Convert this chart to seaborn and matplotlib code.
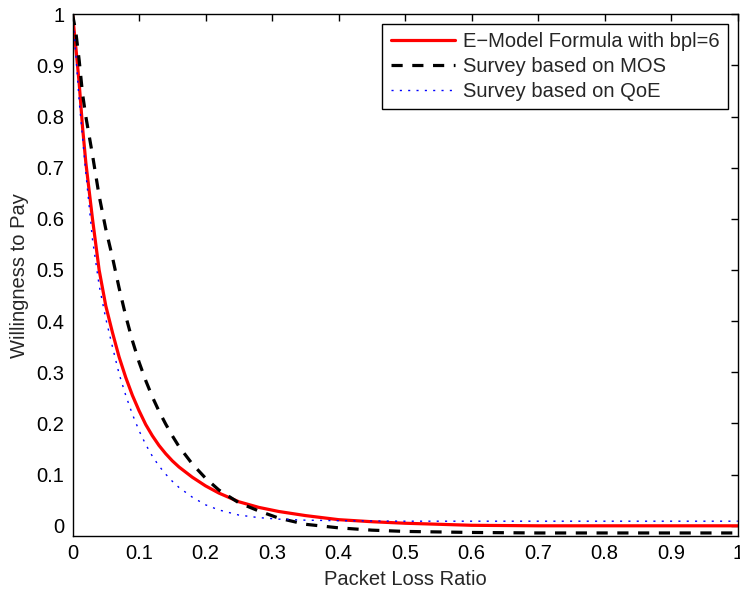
import numpy as np
import pandas as pd
import matplotlib
matplotlib.use("Agg")
import matplotlib.pyplot as plt
import seaborn as sns

# ---- data ----
loss_ratio = [0, 0.005, 0.01, 0.015, 0.02, 0.03, 0.04, 0.05, 0.06, 0.07, 0.08,
              0.09, 0.10, 0.11, 0.12, 0.13, 0.14, 0.15, 0.16, 0.18, 0.20, 0.22,
              0.25, 0.28, 0.31, 0.35, 0.40, 0.45, 0.50, 0.55, 0.60, 0.70, 0.80,
              0.90, 1.0]
emodel = [1.0, 0.935, 0.865, 0.78, 0.71, 0.60, 0.50, 0.43, 0.378, 0.33, 0.29,
          0.255, 0.225, 0.198, 0.176, 0.157, 0.141, 0.127, 0.115, 0.095, 0.078, 0.064,
          0.047, 0.036, 0.028, 0.020, 0.012, 0.008, 0.005, 0.003, 0.001, 0.0, 0.0,
          0.0, 0.0]
survey_mos = [1.0, 0.965, 0.91, 0.845, 0.80, 0.725, 0.645, 0.58, 0.525, 0.465, 0.41,
              0.362, 0.32, 0.284, 0.252, 0.224, 0.199, 0.176, 0.155, 0.121, 0.093, 0.07,
              0.045, 0.029, 0.015, 0.003, -0.004, -0.0085, -0.011, -0.012, -0.013, -0.014, -0.014,
              -0.014, -0.014]
survey_qoe = [1.0, 0.92, 0.83, 0.76, 0.69, 0.56, 0.47, 0.405, 0.35, 0.297, 0.255,
              0.218, 0.186, 0.159, 0.136, 0.117, 0.101, 0.087, 0.075, 0.056, 0.041, 0.031,
              0.021, 0.016, 0.013, 0.011, 0.010, 0.0095, 0.009, 0.009, 0.009, 0.009, 0.009,
              0.009, 0.009]
series_labels = ["E\u2212Model Formula with bpl=6", "Survey based on MOS", "Survey based on QoE"]
x_ticks = [0, 0.1, 0.2, 0.3, 0.4, 0.5, 0.6, 0.7, 0.8, 0.9, 1]
x_tick_labels = ["0", "0.1", "0.2", "0.3", "0.4", "0.5", "0.6", "0.7", "0.8", "0.9", "1"]
y_ticks = [0, 0.1, 0.2, 0.3, 0.4, 0.5, 0.6, 0.7, 0.8, 0.9, 1]
y_tick_labels = ["0", "0.1", "0.2", "0.3", "0.4", "0.5", "0.6", "0.7", "0.8", "0.9", "1"]

FS = 14.5

sns.set_style("white")
plt.rcParams["font.family"] = ["Liberation Sans", "DejaVu Sans"]
plt.rcParams["font.size"] = FS

fig = plt.figure(figsize=(7.4, 5.91), dpi=100)
ax = fig.add_axes([0.098, 0.093, 0.899, 0.883])

df = pd.DataFrame({"x": loss_ratio, "emodel": emodel, "mos": survey_mos, "qoe": survey_qoe})

sns.lineplot(data=df, x="x", y="emodel", ax=ax, color=(1, 0, 0), lw=2.3,
             label=series_labels[0])
sns.lineplot(data=df, x="x", y="mos", ax=ax, color="black", lw=2.3,
             label=series_labels[1])
sns.lineplot(data=df, x="x", y="qoe", ax=ax, color=(0, 0, 1), lw=1.0,
             label=series_labels[2])

lines = ax.get_lines()
lines[1].set_dashes((3.5, 3.0))
lines[2].set_dashes((1.5, 4.5))

ax.set_xlim(0, 1)
ax.set_ylim(-0.02, 1)
ax.set_xticks(x_ticks)
ax.set_xticklabels(x_tick_labels)
ax.set_yticks(y_ticks)
ax.set_yticklabels(y_tick_labels)
ax.tick_params(direction="in", length=5, width=1, top=True, right=True,
               labelsize=FS, colors="black", pad=6)
for sp in ax.spines.values():
    sp.set_color("black")
    sp.set_linewidth(1.0)

ax.set_xlabel("Packet Loss Ratio", fontsize=FS, labelpad=5)
ax.set_ylabel("Willingness to Pay", fontsize=FS, labelpad=5)

leg = ax.legend(loc="upper right", fontsize=FS, frameon=True, fancybox=False,
                edgecolor="black", framealpha=1, handlelength=3.2,
                handletextpad=0.4, labelspacing=0.3, borderpad=0.4,
                borderaxespad=0.5)
leg.get_frame().set_linewidth(1.0)
leg_lines = leg.get_lines()
leg_lines[1].set_dashes((3.5, 3.0))
leg_lines[2].set_dashes((1.5, 4.5))

fig.savefig("out.png", dpi=100)
